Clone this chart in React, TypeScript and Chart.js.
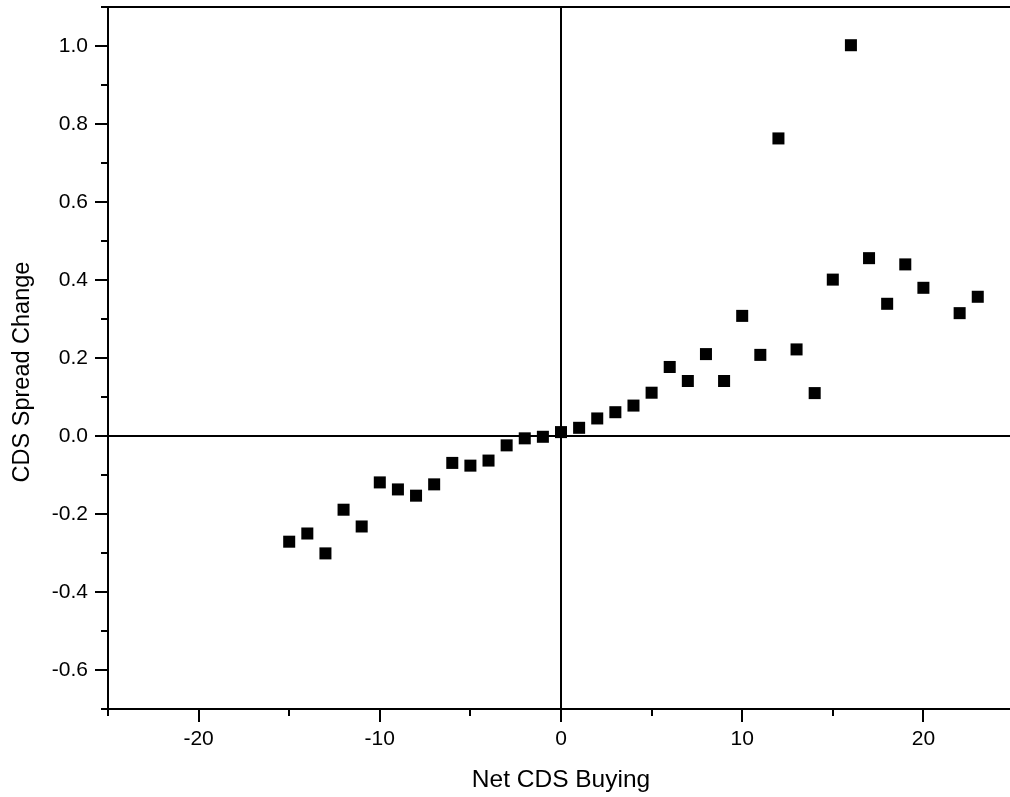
import React, { useEffect, useRef } from "react";
import { Chart, registerables } from "chart.js";

Chart.register(...registerables);

// ---- data ----
const NET_CDS_BUYING = [
  -15, -14, -13, -12, -11, -10, -9, -8, -7, -6, -5, -4, -3, -2, -1, 0, 1, 2, 3, 4,
  5, 6, 7, 8, 9, 10, 11, 12, 13, 14, 15, 16, 17, 18, 19, 20, 22, 23,
];
const CDS_SPREAD_CHANGE = [
  -0.271, -0.25, -0.301, -0.189, -0.232, -0.119, -0.137, -0.153, -0.124, -0.069,
  -0.076, -0.063, -0.024, -0.006, -0.002, 0.01, 0.021, 0.045, 0.061, 0.078,
  0.111, 0.177, 0.141, 0.21, 0.141, 0.308, 0.208, 0.763, 0.222, 0.11,
  0.401, 1.002, 0.456, 0.339, 0.44, 0.38, 0.315, 0.357,
];

const X_MIN = -25;
const X_MAX = 25;
const Y_MIN = -0.7;
const Y_MAX = 1.1;
const X_MAJOR_TICKS = [-20, -10, 0, 10, 20];
const X_MINOR_TICKS = [-25, -15, -5, 5, 15, 25];
const Y_MAJOR_TICKS = [-0.6, -0.4, -0.2, 0, 0.2, 0.4, 0.6, 0.8, 1.0];
const Y_MINOR_TICKS = [-0.7, -0.5, -0.3, -0.1, 0.1, 0.3, 0.5, 0.7, 0.9, 1.1];

const X_TITLE = "Net CDS Buying";
const Y_TITLE = "CDS Spread Change";

const FONT = "'Liberation Sans', Arial, Helvetica, sans-serif";
const CANVAS_W = 1014;
const CANVAS_H = 797;
const MAJOR_LEN = 13;
const MINOR_LEN = 7;

const axisExtras = {
  id: "axisExtras",
  afterDraw(chart: any) {
    const { ctx, chartArea, scales } = chart;
    const xs = scales.x;
    const ys = scales.y;
    ctx.save();
    ctx.strokeStyle = "#000";
    ctx.lineWidth = 2;
    ctx.beginPath();
    ctx.moveTo(chartArea.left - 1, chartArea.top);
    ctx.lineTo(chartArea.right, chartArea.top);
    X_MINOR_TICKS.forEach((v) => {
      const p = Math.round(xs.getPixelForValue(v));
      ctx.moveTo(p, chartArea.bottom);
      ctx.lineTo(p, chartArea.bottom + MINOR_LEN);
    });
    Y_MINOR_TICKS.forEach((v) => {
      const p = Math.round(ys.getPixelForValue(v));
      ctx.moveTo(chartArea.left - MINOR_LEN, p);
      ctx.lineTo(chartArea.left, p);
    });
    ctx.stroke();

    // y-axis title
    ctx.translate(23, (chartArea.top + chartArea.bottom) / 2 + 14);
    ctx.rotate(-Math.PI / 2);
    ctx.fillStyle = "#000";
    ctx.font = `23.5px ${FONT}`;
    ctx.textAlign = "center";
    ctx.textBaseline = "middle";
    ctx.fillText(Y_TITLE, 0, 0);
    ctx.restore();
  },
};

const zeroLine = (c: any) =>
  c.tick && Math.abs(c.tick.value) < 1e-9 ? "#000" : "rgba(0,0,0,0)";

export default function App() {
  const ref = useRef<HTMLCanvasElement | null>(null);

  useEffect(() => {
    if (!ref.current) return;
    const points = NET_CDS_BUYING.map((x, i) => ({ x, y: CDS_SPREAD_CHANGE[i] }));
    const chart = new Chart(ref.current, {
      type: "scatter",
      data: {
        datasets: [
          {
            label: Y_TITLE,
            data: points,
            pointStyle: "rect",
            pointRadius: 8.5,
            pointHoverRadius: 8.5,
            pointBorderWidth: 0,
            backgroundColor: "#000",
            borderColor: "#000",
          },
        ],
      },
      options: {
        responsive: false,
        animation: false,
        devicePixelRatio: 1,
        layout: { autoPadding: false, padding: { left: 0, right: 0, top: 7, bottom: 0 } },
        plugins: {
          legend: { display: false },
          tooltip: { enabled: false },
        },
        scales: {
          x: {
            type: "linear",
            position: "bottom",
            min: X_MIN,
            max: X_MAX,
            afterBuildTicks: (s: any) => {
              s.ticks = X_MAJOR_TICKS.map((value) => ({ value }));
            },
            afterFit: (s: any) => {
              s.height = 88;
              s.paddingLeft = 0;
              s.paddingRight = 0;
            },
            ticks: {
              color: "#000",
              font: { family: FONT, size: 21 },
              padding: 5,
              maxRotation: 0,
              autoSkip: false,
              callback: (v: any) => String(v),
            },
            grid: {
              color: zeroLine,
              lineWidth: 2,
              tickColor: "#000",
              tickLength: MAJOR_LEN,
              tickWidth: 2,
              drawOnChartArea: true,
              drawTicks: true,
            },
            border: { display: true, color: "#000", width: 2 },
            title: {
              display: true,
              text: X_TITLE,
              color: "#000",
              font: { family: FONT, size: 24.5 },
              padding: { top: 0, bottom: 2 },
            },
          },
          y: {
            type: "linear",
            position: "left",
            min: Y_MIN,
            max: Y_MAX,
            afterBuildTicks: (s: any) => {
              s.ticks = Y_MAJOR_TICKS.map((value) => ({ value }));
            },
            afterFit: (s: any) => {
              s.width = 108;
              s.paddingTop = 0;
              s.paddingBottom = 0;
            },
            ticks: {
              color: "#000",
              font: { family: FONT, size: 21 },
              padding: 7,
              autoSkip: false,
              callback: (v: any) => Number(v).toFixed(1),
            },
            grid: {
              color: zeroLine,
              lineWidth: 2,
              tickColor: "#000",
              tickLength: MAJOR_LEN,
              tickWidth: 2,
              drawOnChartArea: true,
              drawTicks: true,
            },
            border: { display: true, color: "#000", width: 2 },
          },
        },
      },
      plugins: [axisExtras],
    });
    return () => chart.destroy();
  }, []);

  return (
    <div
      style={{
        position: "fixed",
        left: 0,
        top: 0,
        width: 1010,
        height: 797,
        overflow: "hidden",
        background: "#fff",
      }}
    >
      <canvas
        ref={ref}
        width={CANVAS_W}
        height={CANVAS_H}
        style={{ display: "block", width: CANVAS_W, height: CANVAS_H }}
      />
    </div>
  );
}
